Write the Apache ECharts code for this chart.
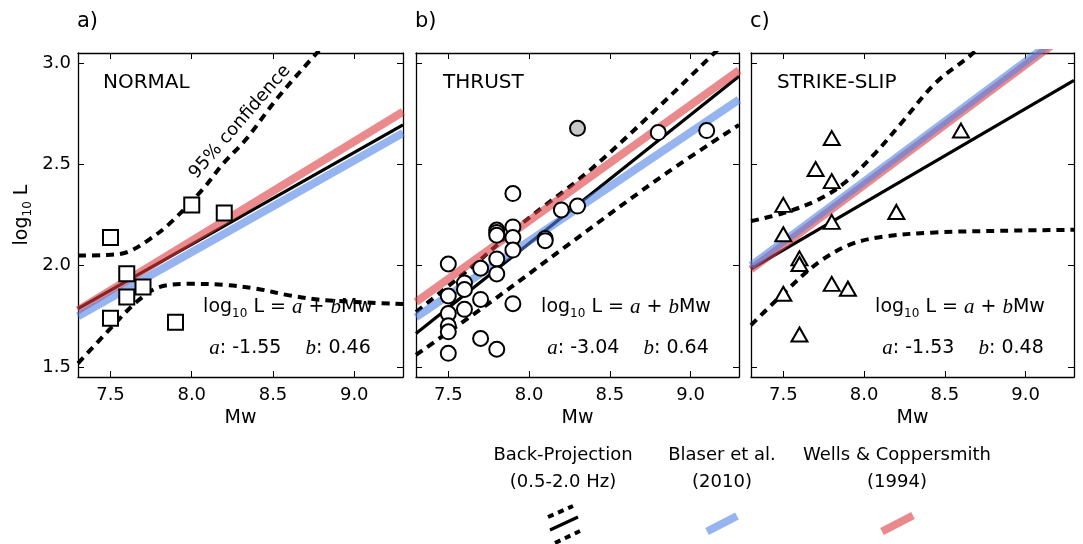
<!DOCTYPE html>
<html><head><meta charset="utf-8">
<script src="https://cdn.jsdelivr.net/npm/echarts@6/dist/echarts.min.js"></script>
<style>html,body{margin:0;padding:0;background:#fff}#c{width:1083px;height:544px}</style>
</head><body><div id="c"></div>
<script>
// ---------------- DATA ----------------
const xTicks = [7.5, 8.0, 8.5, 9.0];
const yTicks = [1.5, 2.0, 2.5, 3.0];
const panelNames = ['NORMAL', 'THRUST', 'STRIKE-SLIP'];
const panelLetters = ['a)', 'b)', 'c)'];
const coefA = ['-1.55', '-3.04', '-1.53'];
const coefB = ['0.46', '0.64', '0.48'];
const legendNames = ['Back-Projection\n(0.5-2.0 Hz)', 'Blaser et al.\n(2010)', 'Wells & Coppersmith\n(1994)'];

// Normal faulting events (Mw, log10 L)
const normalPts = [[7.5,2.139],[8.0,2.30],[8.2,2.26],[7.6,1.96],[7.7,1.894],[7.6,1.845],[7.5,1.74],[7.9,1.72]];
const normalFit = [[7.3,1.788],[9.3,2.695]];
const normalBlaser = [[7.3,1.75],[9.3,2.655]];
const normalWells = [[7.3,1.78],[9.3,2.76]];
const normalUpper = [[7.3,2.05],[7.45,2.052],[7.6,2.066],[7.74,2.13],[7.86,2.205],[8.06,2.37],[8.2,2.51],[8.33,2.62],[8.53,2.83],[8.77,3.05],[8.9,3.16]];
const normalLower = [[7.3,1.517],[7.5,1.69],[7.66,1.82],[7.8,1.894],[8.0,1.91],[8.2,1.905],[8.4,1.886],[8.6,1.853],[8.81,1.83],[9.3,1.81]];

// Thrust events
const thrustPts = [[8.8,2.657],[9.1,2.667],[7.9,2.356],[8.2,2.275],[8.3,2.294],[8.1,2.134],[8.1,2.123],
  [7.8,2.176],[7.8,2.164],[7.8,2.15],[7.9,2.191],[7.9,2.139],[7.9,2.077],[7.8,2.033],[7.8,1.959],[7.7,1.987],
  [7.6,1.914],[7.6,1.882],[7.5,2.008],[7.5,1.85],[7.5,1.763],[7.5,1.703],[7.5,1.673],[7.5,1.567],
  [7.6,1.784],[7.7,1.833],[7.7,1.64],[7.8,1.587],[7.9,1.812]];
const thrustGrayPts = [[8.3,2.678]];
const thrustFit = [[7.3,1.665],[9.3,2.935]];
const thrustBlaser = [[7.3,1.745],[9.3,2.82]];
const thrustWells = [[7.3,1.82],[9.3,2.965]];
const thrustUpper = [[7.3,1.771],[7.64,1.99],[7.964,2.213],[8.357,2.458],[8.75,2.744],[9.142,3.046],[9.3,3.17]];
const thrustLower = [[7.3,1.559],[7.819,1.853],[8.233,2.098],[8.853,2.458],[9.3,2.695]];

// Strike-slip events
const strikePts = [[7.8,2.63],[7.7,2.477],[7.8,2.417],[8.6,2.667],[7.5,2.30],[8.2,2.265],[7.8,2.216],[7.5,2.155],
  [7.6,2.036],[7.6,2.008],[7.8,1.91],[7.9,1.886],[7.5,1.861],[7.6,1.66]];
const strikeFit = [[7.3,1.984],[9.3,2.915]];
const strikeBlaser = [[7.3,2.0],[9.3,3.186]];
const strikeWells = [[7.3,1.982],[9.3,3.17]];
const strikeUpper = [[7.3,2.22],[7.51,2.262],[7.72,2.327],[7.88,2.409],[8.07,2.556],[8.23,2.703],[8.44,2.90],[8.67,3.046],[8.8,3.15]];
const strikeLower = [[7.3,1.706],[7.51,1.87],[7.72,2.017],[7.92,2.106],[8.13,2.144],[8.44,2.164],[8.85,2.172],[9.3,2.177]];

// ---------------- CHART ----------------
const FONT = 'DejaVu Sans';
const BLUE = '#5082e6', PINK = '#dc3c41';
const XMIN = 7.3, XMAX = 9.3, YMIN = 1.45, YMAX = 3.05;
const grids = [
  {left:78, top:53, width:325, height:324},
  {left:416, top:53, width:323, height:324},
  {left:751, top:53, width:323, height:324}
];
const panels = [
  {pts:normalPts, sym:'rect', size:15, fit:normalFit, bl:normalBlaser, wc:normalWells, up:normalUpper, lo:normalLower},
  {pts:thrustPts, sym:'circle', size:15, fit:thrustFit, bl:thrustBlaser, wc:thrustWells, up:thrustUpper, lo:thrustLower, gray:thrustGrayPts},
  {pts:strikePts, sym:'triangle', size:[16,14], fit:strikeFit, bl:strikeBlaser, wc:strikeWells, up:strikeUpper, lo:strikeLower}
];

const xAxes = [], yAxes = [], series = [];
const axLine = {show:true, onZero:false, lineStyle:{color:'#000', width:1.3}};
panels.forEach((p, i) => {
  const tick = (vals) => ({show:true, inside:true, length:6, customValues:vals, lineStyle:{color:'#000', width:1}});
  xAxes.push({type:'value', gridIndex:i, position:'bottom', min:XMIN, max:XMAX,
    axisLine:axLine, splitLine:{show:false}, axisTick:tick(xTicks),
    axisLabel:{customValues:xTicks, formatter:v=>v.toFixed(1), fontSize:18, color:'#000', margin:9, fontFamily:FONT},
    name:'Mw', nameLocation:'middle', nameGap:28, nameTextStyle:{fontSize:19, color:'#000', fontFamily:FONT}});
  xAxes.push({type:'value', gridIndex:i, position:'top', min:XMIN, max:XMAX,
    axisLine:axLine, splitLine:{show:false}, axisTick:tick(xTicks), axisLabel:{show:false}});
  yAxes.push({type:'value', gridIndex:i, position:'left', min:YMIN, max:YMAX,
    axisLine:axLine, splitLine:{show:false}, axisTick:tick(yTicks),
    axisLabel:{show:i===0, customValues:yTicks, formatter:v=>v.toFixed(1), fontSize:18, color:'#000', margin:7, fontFamily:FONT},
    name: i===0 ? 'log{sub|10} L' : '', nameLocation:'middle', nameGap:44, nameRotate:90,
    nameTextStyle:{fontSize:19, color:'#000', fontFamily:FONT, lineHeight:24,
      rich:{sub:{fontSize:12, fontFamily:FONT, verticalAlign:'bottom', lineHeight:24}}}});
  yAxes.push({type:'value', gridIndex:i, position:'right', min:YMIN, max:YMAX,
    axisLine:axLine, splitLine:{show:false}, axisTick:tick(yTicks), axisLabel:{show:false}});

  const xi = 2*i, yi = 2*i;
  const dashed = {color:'#000', width:4, type:[8,6]};
  series.push({type:'line', xAxisIndex:xi, yAxisIndex:yi, data:p.up, symbol:'none', smooth:0.35, lineStyle:dashed, z:2, silent:true});
  series.push({type:'line', xAxisIndex:xi, yAxisIndex:yi, data:p.lo, symbol:'none', smooth:0.35, lineStyle:dashed, z:2, silent:true});
  series.push({type:'line', xAxisIndex:xi, yAxisIndex:yi, data:p.fit, symbol:'none', lineStyle:{color:'#000', width:3.2}, z:3, silent:true});
  series.push({type:'line', xAxisIndex:xi, yAxisIndex:yi, data:p.wc, symbol:'none', lineStyle:{color:PINK, width:8, opacity:0.6}, z:4, silent:true});
  series.push({type:'line', xAxisIndex:xi, yAxisIndex:yi, data:p.bl, symbol:'none', lineStyle:{color:BLUE, width:8, opacity:0.6}, z:5, silent:true});
  series.push({type:'scatter', xAxisIndex:xi, yAxisIndex:yi, data:p.pts, symbol:p.sym, symbolSize:p.size,
    itemStyle:{color:'#fff', borderColor:'#000', borderWidth:2, opacity:1}, z:6, silent:true});
  if (p.gray) series.push({type:'scatter', xAxisIndex:xi, yAxisIndex:yi, data:p.gray, symbol:'circle', symbolSize:p.size,
    itemStyle:{color:'#c8c8c8', borderColor:'#000', borderWidth:2, opacity:1}, z:6, silent:true});
});

// text overlays
const graphics = [];
const eqX1 = [288, 626, 960], eqX2 = [290, 628, 963];
const titleX = [103, 443, 777], letterX = [77, 415, 750];
const eqRich = {
  base:{fontSize:19, fontFamily:FONT, fill:'#000', verticalAlign:'middle', lineHeight:26},
  sub:{fontSize:12, fontFamily:FONT, fill:'#000', verticalAlign:'bottom', lineHeight:26},
  it:{fontSize:21, fontFamily:'Liberation Serif', fontStyle:'italic', fill:'#000', lineHeight:26}
};
for (let i = 0; i < 3; i++) {
  graphics.push({type:'text', x:titleX[i], y:83, style:{text:panelNames[i], fontSize:20, fontFamily:FONT, fill:'#000', textAlign:'left', textVerticalAlign:'middle'}});
  graphics.push({type:'text', x:letterX[i], y:22, style:{text:panelLetters[i], fontSize:21, fontFamily:FONT, fill:'#000', textAlign:'left', textVerticalAlign:'middle'}});
  graphics.push({type:'text', x:eqX1[i], y:307, z:10, style:{text:'{base|log}{sub|10}{base| L = }{it|a}{base| + }{it|b}{base|Mw}', rich:eqRich, textAlign:'center', textVerticalAlign:'middle'}});
  graphics.push({type:'text', x:eqX2[i], y:348, z:10, style:{text:'{it|a}{base|: ' + coefA[i] + '    }{it|b}{base|: ' + coefB[i] + '}', rich:eqRich, textAlign:'center', textVerticalAlign:'middle'}});
}
graphics.push({type:'text', x:240, y:122, rotation:49*Math.PI/180, z:10,
  style:{text:'95% confidence', fontSize:18, fontFamily:FONT, fill:'#000', textAlign:'center', textVerticalAlign:'middle'}});
// legend
const legX = [563, 722, 897];
legX.forEach((x, i) => graphics.push({type:'text', x:x, y:469, style:{text:legendNames[i], fontSize:18, fontFamily:FONT, fill:'#000', textAlign:'center', textVerticalAlign:'middle', lineHeight:27}}));
graphics.push({type:'line', shape:{x1:548,y1:517,x2:573,y2:506}, style:{stroke:'#000', lineWidth:4, lineDash:[6,5]}});
graphics.push({type:'line', shape:{x1:550,y1:530,x2:578,y2:517}, style:{stroke:'#000', lineWidth:3.2}});
graphics.push({type:'line', shape:{x1:555,y1:543,x2:580,y2:531}, style:{stroke:'#000', lineWidth:4, lineDash:[6,5]}});
graphics.push({type:'line', shape:{x1:707,y1:531.5,x2:737,y2:516}, style:{stroke:BLUE, lineWidth:8, opacity:0.6}});
graphics.push({type:'line', shape:{x1:882,y1:531.5,x2:913,y2:515.5}, style:{stroke:PINK, lineWidth:8, opacity:0.6}});

const chart = echarts.init(document.getElementById('c'), null, {renderer:'canvas'});
chart.setOption({
  animation:false,
  backgroundColor:'#fff',
  grid:grids,
  xAxis:xAxes,
  yAxis:yAxes,
  series:series,
  graphic:graphics
});
</script></body></html>
